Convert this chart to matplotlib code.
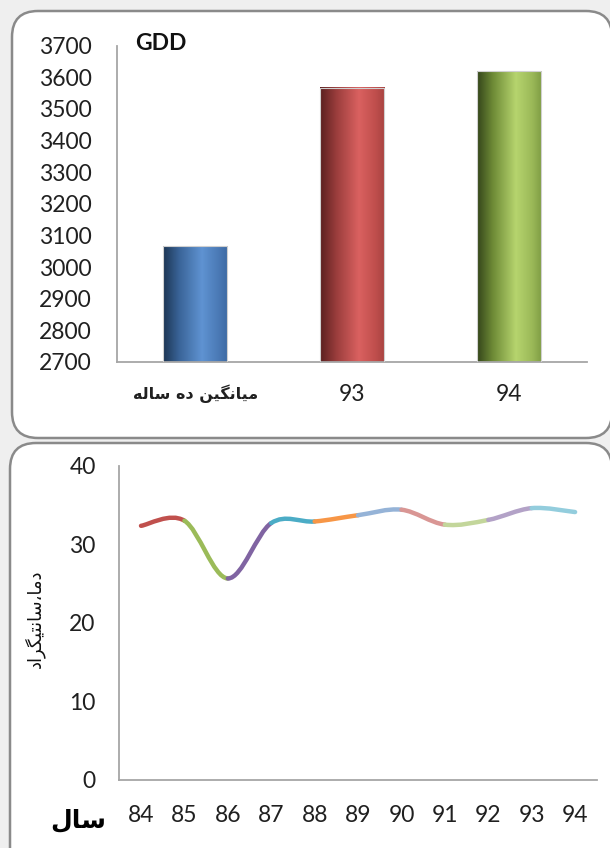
import numpy as np
import matplotlib
matplotlib.use("Agg")
import matplotlib.pyplot as plt
from matplotlib.patches import FancyBboxPatch
from matplotlib.path import Path
from matplotlib.patches import PathPatch
from matplotlib.colors import LinearSegmentedColormap

# growing degree days
gdd_labels = ["\uFEEA\uFEDF\uFE8E\uFEB3 \uFEE9\uFEA9 \uFEE6\uFBFF\uFB95\uFEE7\uFE8E\uFBFF\uFEE3", "93", "94"]
gdd_values = [3066, 3567, 3619]

# yearly temperature
years = ["84", "85", "86", "87", "88", "89", "90", "91", "92", "93", "94"]
temps = [32.35, 33.0, 25.65, 32.7, 32.9, 33.7, 34.4, 32.5, 33.1, 34.6, 34.1]

# arabic strings are stored as presentation forms in visual order
ylabel_temp = "\uFEA9\uFE8D\uFEAE\uFB95\uFBFF\uFE98\uFEE7\uFE8E\uFEB3\u060C\uFE8E\uFEE3\uFEA9"
xlabel_year = "\uFEDD\uFE8E\uFEB3"

bar_grads = [
    ["#1c3553", "#3a6498", "#5f93d2", "#4b7ab6", "#3d6aa3"],
    ["#5a1f1f", "#9a3d3c", "#da6160", "#c04f4d", "#a84341"],
    ["#34451a", "#6f8c37", "#b6d46e", "#9bb958", "#7f9d44"],
]
seg_colors = ["#c0504d", "#9bbb59", "#8064a2", "#4bacc6", "#f79646",
              "#95b3d7", "#d99694", "#c3d69b", "#b3a2c7", "#93cddd"]

W, H = 610, 848
fig = plt.figure(figsize=(W / 100, H / 100), dpi=100)
fig.patch.set_facecolor("#efefef")

# pixel canvas for the rounded panels
bg = fig.add_axes([0, 0, 1, 1], zorder=0)
bg.set_xlim(0, W)
bg.set_ylim(H, 0)
bg.axis("off")
for (x0, y0, x1, y1) in [(12, 11, 612, 438), (10, 443, 612, 900)]:
    box = FancyBboxPatch((x0, y0), x1 - x0, y1 - y0,
                         boxstyle="round,pad=0,rounding_size=26",
                         fc="white", ec="#8a8a8a", lw=1.8)
    bg.add_patch(box)

tick_font = "Lato"

# ---- GDD bars ----
ax1 = fig.add_axes([117 / W, 1 - 362 / H, 470 / W, 316.3 / H], zorder=2)
ax1.patch.set_alpha(0)
ax1.set_xlim(-0.5, 2.5)
ax1.set_ylim(2700, 3700)
x = np.arange(len(gdd_values))
bars = ax1.bar(x, gdd_values, width=0.41, color="none",
               edgecolor="#d0d0d0", lw=0.8, zorder=3)
ymin = ax1.get_ylim()[0]
grad = np.linspace(0, 1, 256).reshape(1, -1)
for rect, stops in zip(bars, bar_grads):
    cmap = LinearSegmentedColormap.from_list("g", list(zip([0, 0.25, 0.6, 0.85, 1.0], stops)))
    bx = rect.get_x()
    top = rect.get_y() + rect.get_height()
    ax1.imshow(grad, cmap=cmap, aspect="auto", zorder=2, interpolation="bilinear",
               extent=[bx, bx + rect.get_width(), max(rect.get_y(), ymin), top])
ax1.set_xlim(-0.5, 2.5)
ax1.set_ylim(2700, 3700)
ax1.set_yticks(np.arange(2700, 3701, 100))
ax1.set_xticks(x)
ax1.set_xticklabels(gdd_labels)
for lab in ax1.get_yticklabels():
    lab.set_fontfamily(tick_font)
    lab.set_fontsize(16.5)
    lab.set_color("#202020")
xl = ax1.get_xticklabels()
xl[0].set_fontfamily("DejaVu Sans")
xl[0].set_fontsize(11.5)
xl[0].set_fontweight("bold")
for lab in xl[1:]:
    lab.set_fontfamily(tick_font)
    lab.set_fontsize(16.5)
for lab in xl:
    lab.set_color("#202020")
ax1.tick_params(length=0, pad=18)
ax1.tick_params(axis="x", pad=16)
for s in ["top", "right"]:
    ax1.spines[s].set_visible(False)
for s in ["left", "bottom"]:
    ax1.spines[s].set_color("#a6a6a6")
    ax1.spines[s].set_linewidth(1.3)
bg.text(135, 43, "GDD", fontsize=16.5, fontweight="bold",
        family="Lato", va="center", ha="left", color="#111111")

# ---- temperature line ----
ax2 = fig.add_axes([119.3 / W, 1 - 780 / H, 477.5 / W, 314.3 / H], zorder=2)
ax2.patch.set_alpha(0)
xs = np.arange(len(temps), dtype=float)
ys = np.array(temps)
n = len(xs)
for i in range(n - 1):
    p0 = (xs[max(i - 1, 0)], ys[max(i - 1, 0)])
    p1 = (xs[i], ys[i])
    p2 = (xs[i + 1], ys[i + 1])
    p3 = (xs[min(i + 2, n - 1)], ys[min(i + 2, n - 1)])
    c1 = (p1[0] + (p2[0] - p0[0]) / 6, p1[1] + (p2[1] - p0[1]) / 6)
    c2 = (p2[0] - (p3[0] - p1[0]) / 6, p2[1] - (p3[1] - p1[1]) / 6)
    path = Path([p1, c1, c2, p2], [Path.MOVETO, Path.CURVE4, Path.CURVE4, Path.CURVE4])
    ax2.add_patch(PathPatch(path, fc="none", ec=seg_colors[i], lw=3.2,
                            capstyle="round", zorder=3))
ax2.set_xlim(-0.5, n - 0.5)
ax2.set_ylim(0, 40)
ax2.set_yticks([0, 10, 20, 30, 40])
ax2.set_xticks(xs)
ax2.set_xticklabels(years)
for lab in ax2.get_xticklabels() + ax2.get_yticklabels():
    lab.set_fontfamily(tick_font)
    lab.set_fontsize(16.5)
    lab.set_color("#202020")
ax2.tick_params(length=0, pad=17)
ax2.tick_params(axis="x", pad=18)
for s in ["top", "right"]:
    ax2.spines[s].set_visible(False)
for s in ["left", "bottom"]:
    ax2.spines[s].set_color("#a6a6a6")
    ax2.spines[s].set_linewidth(1.3)
bg.text(35, 619, ylabel_temp, rotation=90, fontsize=13, family="DejaVu Sans",
        ha="center", va="center", color="#111111")
bg.text(78, 820, xlabel_year, fontsize=18, fontweight="bold", family="DejaVu Sans",
        ha="center", va="center", color="#000000")

fig.savefig("out.png", dpi=100, facecolor=fig.get_facecolor())
